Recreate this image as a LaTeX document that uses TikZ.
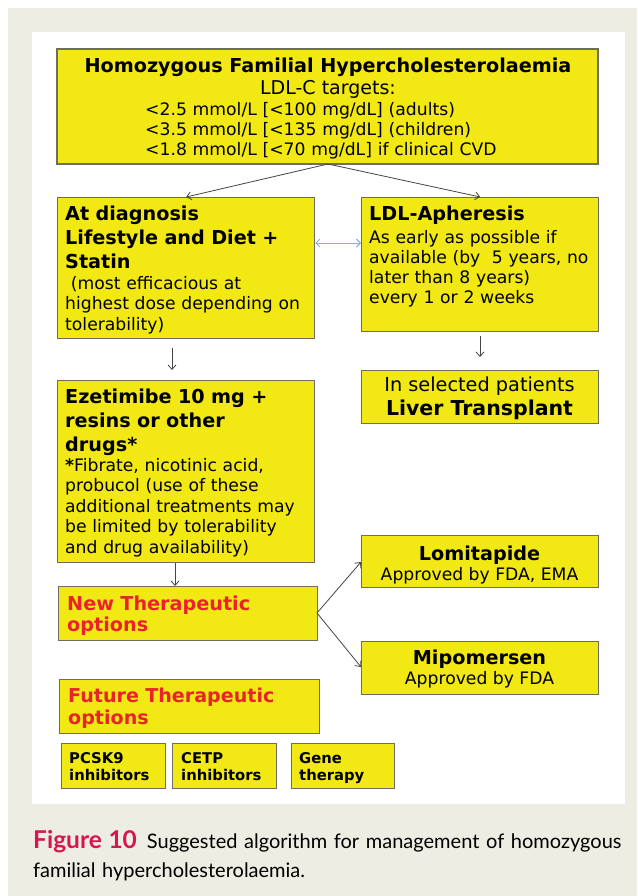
\documentclass[tikz,border=0pt]{standalone}
\usepackage{fontspec}
\setmainfont{DejaVu Sans}
\newfontfamily\capfont{Lato}
\usetikzlibrary{arrows.meta,calc}
\definecolor{beige}{HTML}{EEEDE3}
\definecolor{boxyellow}{HTML}{F2E914}
\definecolor{boxborder}{HTML}{6F6E5E}
\definecolor{newred}{HTML}{E8232A}
\definecolor{capred}{HTML}{D5174E}
\definecolor{linkblue}{HTML}{8AAEDB}
\definecolor{arrowgray}{HTML}{444444}
\tikzset{
  ybox/.style={draw=boxborder, line width=1.3pt, fill=boxyellow, inner sep=0pt},
  txt/.style={inner sep=0pt, align=left},
  ctxt/.style={inner sep=0pt, align=center},
  flow/.style={draw=arrowgray, line width=0.8pt, -{Straight Barb[length=4.5pt,width=8pt]}},
  bilink/.style={draw=linkblue, line width=0.9pt, {Straight Barb[length=4pt,width=8pt]}-{Straight Barb[length=4pt,width=8pt]}},
}
\newcommand{\fsreg}{\fontsize{17.2}{20.5}\selectfont}
\newcommand{\fsbold}{\fontsize{19.2}{24}\selectfont\bfseries}
\begin{document}
\begin{tikzpicture}[x=1pt,y=-1pt]
\useasboundingbox (0,0) rectangle (637,896);
\fill[white] (0,0) rectangle (637,896);
\fill[beige] (8,8) rectangle (637,896);
\fill[white] (32,32) rectangle (625,804);

% boxes
\draw[ybox] (57,49) rectangle (598,164);
\coordinate (top) at (328,164);
\node[ybox, minimum width=257pt, minimum height=141pt, anchor=north west] (diag) at (57,197) {};
\node[ybox, minimum width=237pt, minimum height=134pt, anchor=north west] (ldl) at (361,197) {};
\node[ybox, minimum width=257pt, minimum height=182pt, anchor=north west] (eze) at (57,380) {};
\node[ybox, minimum width=237pt, minimum height=53pt, anchor=north west] (liver) at (361,370) {};
\node[ybox, minimum width=259pt, minimum height=54pt, anchor=north west] (new) at (58,586) {};
\node[ybox, minimum width=237pt, minimum height=52pt, anchor=north west] (lomi) at (361,535) {};
\node[ybox, minimum width=237pt, minimum height=53pt, anchor=north west] (mipo) at (361,641) {};
\node[ybox, minimum width=260pt, minimum height=54pt, anchor=north west] (future) at (59,679) {};
\node[ybox, minimum width=104pt, minimum height=45pt, anchor=north west] (pcsk) at (61,743) {};
\node[ybox, minimum width=104pt, minimum height=45pt, anchor=north west] (cetp) at (172,743) {};
\node[ybox, minimum width=103pt, minimum height=45pt, anchor=north west] (gene) at (291,743) {};

% top box text
\node[ctxt, anchor=base, font=\fontsize{19.2}{20}\selectfont\bfseries] (t1) at (328,73) {Homozygous Familial Hypercholesterolaemia};
\node[ctxt, anchor=base, font=\fontsize{19}{20}\selectfont] (t2) at (328,95) {LDL-C targets:};
\node[txt, anchor=base west, font=\fontsize{17.2}{20}\selectfont, text width=420pt] (t3) at (145,116) {<2.5 mmol/L [<100 mg/dL] (adults)\\<3.5 mmol/L [<135 mg/dL] (children)\\<1.8 mmol/L [<70 mg/dL] if clinical CVD};

% diag text
\node[txt, anchor=base west, font=\fsbold, text width=250pt] (d1) at (65,220) {At diagnosis\\Lifestyle and Diet +\\Statin};
\node[txt, anchor=base west, font=\fsreg, text width=250pt] (d2) at (65,289) {\ (most efficacious at\\highest dose depending on\\tolerability)};

% ldl text
\node[txt, anchor=base west, font=\fsbold, text width=230pt] (l1) at (369,220) {LDL-Apheresis};
\node[txt, anchor=base west, font=\fontsize{17.2}{20}\selectfont, text width=230pt] (l2) at (369,243) {As early as possible if\\available (by\ \ 5 years, no\\later than 8 years)\\every 1 or 2 weeks};

% liver text
\node[ctxt, anchor=base, font=\fontsize{19.3}{22}\selectfont] (lv1) at (479.5,391) {In selected patients};
\node[ctxt, anchor=base, font=\fontsize{20.5}{24}\selectfont\bfseries] (lv2) at (479.5,415) {Liver Transplant};

% eze text
\node[txt, anchor=base west, font=\fsbold, text width=250pt] (e1) at (65,403) {Ezetimibe 10 mg +\\resins or other\\drugs*};
\node[txt, anchor=base west, font=\fsreg, text width=250pt] (e2) at (65,471) {\textbf{*}Fibrate, nicotinic acid,\\probucol (use of these\\additional treatments may\\be limited by tolerability\\and drug availability)};

% new / future
\node[txt, anchor=base west, font=\fontsize{19.2}{21.5}\selectfont\bfseries, text width=250pt, text=newred] (n1) at (67,610) {New Therapeutic\\options};
\node[txt, anchor=base west, font=\fontsize{19.1}{22}\selectfont\bfseries, text width=250pt, text=newred] (f1) at (68,702) {Future Therapeutic\\options};

% lomi / mipo
\node[ctxt, anchor=base, font=\fsbold] (lo1) at (479.5,560) {Lomitapide};
\node[ctxt, anchor=base, font=\fsreg] (lo2) at (479.5,580) {Approved by FDA, EMA};
\node[ctxt, anchor=base, font=\fsbold] (mi1) at (479.5,664) {Mipomersen};
\node[ctxt, anchor=base, font=\fsreg] (mi2) at (479.5,684) {Approved by FDA};

% small boxes
\node[txt, anchor=base west, font=\fontsize{14.8}{17.5}\selectfont\bfseries, text width=100pt] (p1) at (69,763) {PCSK9\\inhibitors};
\node[txt, anchor=base west, font=\fontsize{14.8}{17.5}\selectfont\bfseries, text width=100pt] (c1) at (181,763) {CETP\\inhibitors};
\node[txt, anchor=base west, font=\fontsize{14.8}{17.5}\selectfont\bfseries, text width=100pt] (g1) at (299,763) {Gene\\therapy};

% connectors
\draw[flow] (top) -- (diag.north);
\draw[flow] (top) -- (ldl.north);
\draw[bilink] (diag.east |- 0,243) -- (ldl.west |- 0,243);
\coordinate (da) at (172,348);
\coordinate (db) at (172,370);
\draw[flow] (da) -- (db);
\coordinate (la) at (480,336);
\coordinate (lb) at (480,357);
\draw[flow] (la) -- (lb);
\draw[flow] (eze.south -| 175,0) -- (new.north -| 175,0);
\coordinate (nx) at (317,613);
\draw[flow] (nx) -- (361,562) coordinate (lt);
\draw[flow] (nx) -- (361,667) coordinate (mt);

% caption
\node[txt, anchor=base west, font=\capfont\fontsize{20}{29}\selectfont, text width=600pt] (cap) at (33,848) {{\color{capred}\bfseries\fontsize{24.5}{29}\selectfont Figure 10}\hspace{10pt}Suggested algorithm for management of homozygous\\familial hypercholesterolaemia.};
\end{tikzpicture}
\end{document}
